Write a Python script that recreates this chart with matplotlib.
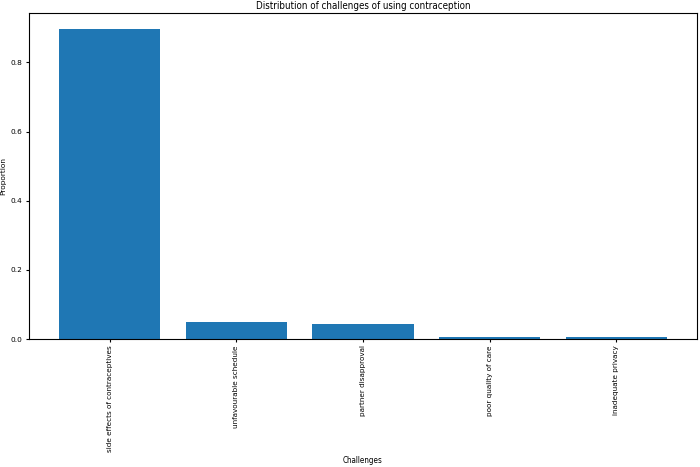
import matplotlib
matplotlib.use("Agg")
import matplotlib.pyplot as plt

categories = ["side effects of contraceptives", "unfavourable schedule",
              "partner disapproval", "poor quality of care", "inadequate privacy"]
proportions = [0.898, 0.049, 0.043, 0.005, 0.005]

fig = plt.figure(figsize=(7, 4.67), dpi=100)
ax = fig.add_axes([0.041, 0.274, 0.955, 0.698])
ax.bar(categories, proportions, color="#1f77b4")
ax.set_title("Distribution of challenges of using contraception", fontsize=7,
             fontstretch="condensed", pad=3)
ax.set_xlabel("Challenges", fontsize=5.8, fontstretch="condensed")
ax.xaxis.set_label_coords(0.5, -0.358)
ax.set_ylabel("Proportion", fontsize=5.3, labelpad=3)
ax.tick_params(axis="y", labelsize=5.3, length=2.5, pad=2)
ax.tick_params(axis="x", labelsize=5.2, length=2.5, pad=2)
plt.setp(ax.get_xticklabels(), rotation=90)
fig.savefig("out.png", dpi=100)
